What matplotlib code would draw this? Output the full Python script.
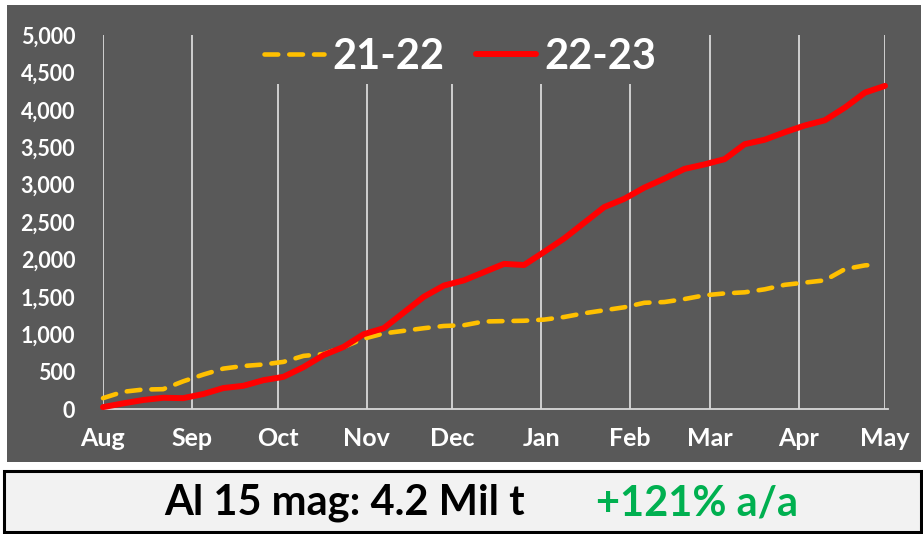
import matplotlib
matplotlib.use("Agg")
import matplotlib.pyplot as plt
from matplotlib.patches import Rectangle

# days since 1 Aug
month_days = [0, 31, 61, 92, 122, 153, 184, 212, 243, 273]
month_labels = ["Aug", "Sep", "Oct", "Nov", "Dec", "Jan", "Feb", "Mar", "Apr", "May"]

days_new = [0, 7, 14, 21, 28, 35, 42, 49, 56, 63, 70, 77, 84, 91, 98, 105, 112, 119,
            126, 133, 140, 147, 154, 161, 168, 175, 182, 189, 196, 203, 210, 217, 224,
            231, 238, 245, 252, 259, 266, 273]
vals_new = [25, 75, 120, 150, 145, 200, 280, 310, 385, 430, 560, 720, 830, 1000, 1080,
            1290, 1500, 1650, 1720, 1830, 1940, 1925, 2100, 2280, 2490, 2700, 2810, 2960,
            3080, 3210, 3270, 3340, 3540, 3600, 3700, 3790, 3860, 4030, 4230, 4320]

days_old = [0, 7, 14, 21, 28, 35, 42, 49, 56, 63, 70, 77, 84, 91, 98, 105, 112, 119,
            126, 133, 140, 147, 154, 161, 168, 175, 182, 189, 196, 203, 210, 217, 224,
            231, 238, 245, 252, 259, 266, 270]
vals_old = [145, 230, 260, 265, 370, 460, 540, 575, 595, 630, 710, 735, 830, 940, 1010,
            1045, 1080, 1110, 1120, 1170, 1175, 1180, 1195, 1230, 1280, 1320, 1360, 1420,
            1430, 1470, 1520, 1545, 1560, 1600, 1660, 1690, 1720, 1870, 1920, 1930]

y_ticks = list(range(0, 5001, 500))

W, H = 923, 534
GRAY = "#595959"
GRID = "#d9d9d9"
FONT = ["Lato", "DejaVu Sans"]

plt.rcParams["font.family"] = FONT
plt.rcParams["font.weight"] = "bold"

fig = plt.figure(figsize=(W / 100, H / 100), dpi=100, facecolor="white")

def px_rect(x0, y0, x1, y1, **kw):
    # pixel coords, origin top-left
    return Rectangle((x0 / W, 1 - y1 / H), (x1 - x0) / W, (y1 - y0) / H,
                     transform=fig.transFigure, **kw)

# dark chart panel, behind the axes
fig.patches.append(px_rect(7, 5, 921, 462, facecolor=GRAY, edgecolor="none", zorder=-5))

ax = fig.add_axes([103 / W, 1 - 409 / H, 782 / W, 374 / H])
ax.set_facecolor("none")
ax.set_xlim(0, 273)
ax.set_ylim(0, 5000)

ax.plot(days_old, vals_old, color="#FFC000", lw=3.3, dashes=(3.0, 2.4),
        dash_capstyle="round", solid_capstyle="round", label="21-22", zorder=3, clip_on=False)
ax.plot(days_new, vals_new, color="#FF0000", lw=4.3, solid_capstyle="round",
        label="22-23", zorder=4, clip_on=False)

ax.set_xticks(month_days)
ax.set_xticklabels(month_labels)
ax.set_yticks(y_ticks)
ax.set_yticklabels([f"{v:,}" for v in y_ticks])
ax.tick_params(axis="both", length=0, colors="white")
ax.tick_params(axis="y", labelsize=15.5, pad=20)
ax.tick_params(axis="x", labelsize=18, pad=13)
ax.grid(axis="x", color=GRID, lw=1.3, zorder=1)
for side in ("top", "right", "left"):
    ax.spines[side].set_visible(False)
ax.spines["bottom"].set_color(GRID)
ax.spines["bottom"].set_linewidth(1.3)
ax.spines["bottom"].set_bounds(0, 274)

leg = ax.legend(loc="upper center", bbox_to_anchor=(0.457, 1.07), ncol=2, fontsize=30,
                frameon=True, facecolor=GRAY, edgecolor="none", framealpha=1,
                handlelength=1.45, handletextpad=0.2, columnspacing=0.75,
                borderpad=0.2, labelcolor="white")
leg.set_zorder(5)

# bottom summary box
fig.patches.append(px_rect(4, 471, 921, 532, facecolor="#f2f2f2", edgecolor="black",
                           lw=2.2, zorder=-5))
fig.text(345 / W, 1 - 503 / H, "Al 15 mag: 4.2 Mil t", ha="center", va="center",
         fontsize=30, fontweight="bold", color="black")
fig.text(697 / W, 1 - 503 / H, "+121% a/a", ha="center", va="center",
         fontsize=30, fontweight="bold", color="#00B050")

fig.savefig("out.png", dpi=100, facecolor="white")
